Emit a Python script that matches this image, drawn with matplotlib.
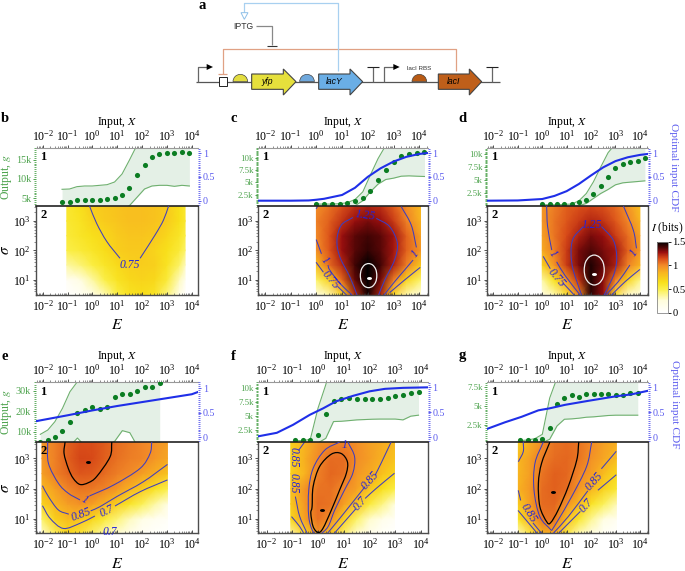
import numpy as np
import matplotlib
matplotlib.use("Agg")
import matplotlib.pyplot as plt
from matplotlib.cm import ScalarMappable
from matplotlib.colors import LinearSegmentedColormap, Normalize
from matplotlib.patches import PathPatch, Polygon, Rectangle, Wedge
from matplotlib.path import Path
from matplotlib.ticker import LogLocator, MultipleLocator, NullFormatter, FixedLocator
from matplotlib.transforms import Affine2D

plt.rcParams["font.family"] = ["Liberation Serif", "DejaVu Serif"]
plt.rcParams["mathtext.fontset"] = "stix"

W, H = 685, 571
GREEN = "#0b7d22"
GREEN_TXT = "#4da34d"
BAND = "#e4f0e6"
BAND_EDGE = "#6fb06f"
BLUE = "#1f2fe8"
BLUE_TXT = "#5a5aee"
CONT = "#3d3dc0"

E_TICKS = [1e-2, 1e-1, 1, 1e1, 1e2, 1e3, 1e4]
SIG_TICKS = [1e1, 1e2, 1e3]

# doubling input levels
X_B = [0.06, 0.12, 0.24, 0.49, 0.98, 1.95, 3.9, 7.8, 15.6, 31, 62.5, 125, 250, 500, 1000, 2000, 4000, 8000]
G_B = [4140, 4140, 4480, 4480, 4570, 4570, 4740, 5090, 5950, 7670, 10950, 13700, 15600, 16470, 16800, 16800, 17000, 16800]
UP_B = [7330, 7410, 8020, 8190, 8190, 8360, 8530, 9220, 11290, 14910, 18800, 24000, 28000, 30000, 30000, 30000, 30000, 30000]
LOW_B = [2000, 2000, 2000, 2000, 2000, 2000, 2000, 2000, 2000, 3100, 5260, 7410, 8190, 8360, 8360, 8100, 8360, 8190]

X_CD = [1, 2, 4, 8, 16, 32, 64, 125, 250, 500, 1000, 2000, 4000, 8000, 16000]
G_C = [675, 675, 675, 675, 810, 1220, 1820, 3310, 5540, 7640, 9260, 10400, 10740, 11080, 11150]
UP_C = [600, 600, 600, 675, 880, 1550, 3100, 6490, 9860, 12570, 14000, 16000, 18000, 19000, 20000]
LOW_C = [100, 100, 100, 100, 100, 270, 1280, 3100, 4660, 5610, 5880, 6280, 6350, 6280, 6220]
CDF_X_C = [-2.26, -1, -0.3, 0, 0.3, 1, 1.5, 2, 2.5, 3, 3.5, 4, 4.33]
CDF_C = [0, 0, 0.005, 0.02, 0.04, 0.12, 0.27, 0.5, 0.68, 0.82, 0.92, 0.98, 1.0]

G_D = [520, 520, 520, 520, 520, 900, 1280, 2300, 3960, 5670, 7390, 8150, 8540, 8790, 9300]
UP_D = [330, 330, 330, 400, 460, 1090, 2490, 4720, 7580, 10320, 12000, 13000, 14000, 15000, 16000]
LOW_D = [50, 50, 50, 50, 50, 140, 580, 1540, 2490, 3260, 4150, 4530, 4660, 4780, 4910]
CDF_X_D = [-2.25, -1, 0, 0.5, 1, 1.5, 2, 2.5, 3, 3.5, 4, 4.32]
CDF_D = [0, 0.005, 0.035, 0.1, 0.2, 0.35, 0.53, 0.7, 0.83, 0.91, 0.96, 0.98]

X_E = [0.008, 0.016, 0.031, 0.0625, 0.125, 0.25, 0.5, 1, 2, 4, 8, 16, 32, 64, 128, 256, 512]
G_E = [5120, 5770, 7240, 10160, 14550, 19270, 20730, 21870, 20890, 22030, 27070, 28210, 28210, 29670, 31630, 31950, 33900]
UP_E = [8700, 10800, 14900, 21400, 29500, 34400, 40000, 40000, 40000, 40000, 40000, 40000, 40000, 40000, 40000, 40000, 40000]
LOW_E = [3000, 3000, 3000, 3000, 3000, 6900, 3000, 3000, 3000, 3000, 5400, 10500, 9500, 3000, 3000, 3000, 3000]
CDF_X_E = [-2.27, -1, 0, 1, 2, 3, 4, 4.27]
CDF_E = [0.33, 0.45, 0.55, 0.64, 0.72, 0.8, 0.88, 0.93]

X_FG = [0.125, 0.25, 0.5, 1, 2, 4, 8, 16, 32, 64, 125, 250, 500, 1000, 2000, 4000, 8000]
G_F = [680, 680, 680, 1465, 5400, 7700, 8060, 8120, 8000, 8000, 8000, 8060, 8240, 8550, 8730, 9150, 9270]
UP_F = [500, 500, 740, 6370, 10600, 16000, 16000, 16000, 16000, 16000, 16000, 16000, 16000, 16000, 16000, 16000, 16000]
LOW_F = [100, 100, 100, 100, 920, 3950, 4000, 4120, 4250, 4310, 4370, 4400, 4400, 4400, 4250, 4920, 5100]
CDF_X_F = [-2.32, -1.6, -0.97, -0.32, 0.2, 0.7, 1.36, 2, 2.6, 3.3, 4.26]
CDF_F = [0.02, 0.09, 0.25, 0.45, 0.58, 0.72, 0.83, 0.92, 0.97, 0.99, 1.0]

G_G = [450, 450, 450, 580, 2100, 5220, 5980, 6380, 6200, 6610, 6610, 6560, 6520, 6470, 6470, 6650, 6740]
UP_G = [360, 450, 625, 1200, 6030, 8700, 10000, 10000, 10000, 10000, 10000, 10000, 10000, 10000, 10000, 10000, 10000]
LOW_G = [50, 50, 50, 100, 540, 2320, 3210, 3260, 3350, 3480, 3530, 3620, 3710, 3750, 3750, 3750, 3750]
CDF_X_G = [-2.25, -1.53, -0.85, -0.16, 0.3, 0.93, 1.88, 3, 3.65, 4.31]
CDF_G = [0.17, 0.3, 0.41, 0.54, 0.58, 0.65, 0.73, 0.82, 0.86, 0.93]

# information tables, rows are log10 sigma
LOG_SIG = [0.42, 1, 1.5, 2, 2.5, 3, 3.55]
LOG_E_B = [-1.03, -0.5, 0, 0.5, 1, 1.5, 2, 2.5, 3, 3.5, 3.73]
I_B = [[0, 0.05, 0.1, 0.3, 0.5, 0.62, 0.65, 0.6, 0.4, 0.12, 0.03],
       [0.08, 0.2, 0.35, 0.5, 0.62, 0.68, 0.7, 0.68, 0.55, 0.3, 0.12],
       [0.35, 0.42, 0.52, 0.6, 0.67, 0.72, 0.73, 0.72, 0.62, 0.45, 0.3],
       [0.5, 0.55, 0.6, 0.66, 0.73, 0.75, 0.75, 0.7, 0.64, 0.55, 0.45],
       [0.55, 0.6, 0.64, 0.69, 0.74, 0.77, 0.77, 0.75, 0.69, 0.6, 0.52],
       [0.57, 0.62, 0.7, 0.74, 0.77, 0.8, 0.8, 0.78, 0.74, 0.65, 0.58],
       [0.58, 0.64, 0.74, 0.76, 0.78, 0.8, 0.8, 0.78, 0.74, 0.65, 0.58]]
LOG_E_C = [0, 0.5, 1, 1.5, 2, 2.5, 3, 3.5, 4.05]
I_C = [[0.1, 0.3, 0.6, 1.2, 1.45, 1.22, 0.6, 0.3, 0.1],
       [0.45, 0.72, 1.08, 1.35, 1.52, 1.33, 1.03, 0.7, 0.45],
       [0.8, 1.07, 1.22, 1.4, 1.5, 1.4, 1.24, 1.03, 0.75],
       [0.98, 1.12, 1.28, 1.37, 1.42, 1.37, 1.26, 1.1, 0.96],
       [1.0, 1.13, 1.28, 1.36, 1.4, 1.36, 1.27, 1.1, 0.92],
       [1.02, 1.1, 1.2, 1.28, 1.32, 1.28, 1.18, 1.02, 0.85],
       [0.97, 1.05, 1.13, 1.2, 1.23, 1.2, 1.1, 0.98, 0.82]]
LOG_E_D = [0, 0.5, 1, 1.5, 2, 2.5, 3, 3.5, 4]
I_D = [[0.1, 0.3, 0.55, 0.97, 1.42, 1.28, 0.55, 0.25, 0.1],
       [0.35, 0.65, 0.95, 1.2, 1.45, 1.3, 1.03, 0.7, 0.4],
       [0.72, 0.97, 1.18, 1.32, 1.45, 1.35, 1.24, 1.02, 0.85],
       [0.88, 1.03, 1.18, 1.32, 1.38, 1.32, 1.26, 1.1, 0.95],
       [0.92, 1.05, 1.15, 1.24, 1.32, 1.28, 1.18, 1.07, 0.92],
       [0.96, 1.05, 1.12, 1.18, 1.23, 1.2, 1.12, 1.01, 0.85],
       [0.95, 1.03, 1.1, 1.13, 1.15, 1.13, 1.07, 0.96, 0.8]]
LOG_E_E = [-2.03, -1.5, -1, -0.5, 0, 0.5, 1, 1.5, 2, 2.5, 3.02]
I_E = [[0.2, 0.45, 0.65, 0.55, 0.42, 0.3, 0.2, 0.1, 0.05, 0.02, 0],
       [0.45, 0.72, 0.82, 0.78, 0.68, 0.55, 0.42, 0.3, 0.18, 0.1, 0.05],
       [0.7, 0.85, 0.93, 0.97, 0.93, 0.85, 0.72, 0.6, 0.48, 0.35, 0.22],
       [0.83, 0.93, 1.01, 1.05, 1.04, 1.01, 0.95, 0.85, 0.74, 0.63, 0.5],
       [0.92, 1.02, 1.08, 1.12, 1.11, 1.07, 1.03, 1.0, 0.93, 0.87, 0.78],
       [0.95, 1.02, 1.1, 1.16, 1.15, 1.1, 1.06, 1.03, 1.01, 0.96, 0.9],
       [0.95, 1.02, 1.09, 1.14, 1.14, 1.11, 1.07, 1.04, 1.01, 0.98, 0.93]]
LOG_E_F = [-1.06, -0.5, 0, 0.5, 1, 1.5, 2, 2.5, 2.97]
I_F = [[0.3, 0.62, 0.95, 0.72, 0.42, 0.22, 0.1, 0.03, 0],
       [0.68, 0.93, 1.06, 0.98, 0.72, 0.45, 0.28, 0.15, 0.07],
       [0.75, 0.95, 1.07, 1.05, 0.93, 0.78, 0.55, 0.4, 0.25],
       [0.8, 0.97, 1.05, 1.06, 1.0, 0.92, 0.78, 0.65, 0.52],
       [0.72, 0.86, 1.02, 1.08, 1.06, 0.96, 0.89, 0.79, 0.7],
       [0.72, 0.87, 1.0, 1.07, 1.07, 0.99, 0.93, 0.86, 0.78],
       [0.72, 0.85, 0.95, 1.0, 1.01, 0.98, 0.92, 0.88, 0.83]]
LOG_E_G = [-0.98, -0.5, 0, 0.5, 1, 1.5, 2, 2.5, 3.03]
I_G = [[0.25, 0.5, 0.8, 0.85, 0.5, 0.28, 0.12, 0.04, 0],
       [0.62, 0.85, 1.05, 1.05, 0.8, 0.58, 0.38, 0.22, 0.1],
       [0.75, 0.93, 1.07, 1.08, 0.97, 0.82, 0.62, 0.47, 0.32],
       [0.86, 0.95, 1.07, 1.1, 1.07, 0.96, 0.85, 0.71, 0.57],
       [0.84, 0.93, 1.05, 1.1, 1.08, 1.01, 0.93, 0.82, 0.68],
       [0.84, 0.93, 1.03, 1.07, 1.08, 1.05, 0.97, 0.9, 0.82],
       [0.72, 0.87, 0.99, 1.05, 1.07, 1.05, 1.0, 0.93, 0.87]]

# contour lines, (log10 E, log10 sigma)
LINES_B = [[(-0.12, 3.52), (0.17, 2.92), (0.58, 2.3), (1.11, 1.73)],
           [(1.92, 1.73), (2.52, 2.52), (2.86, 3.03), (3.07, 3.52)]]
LABELS_B = [("0.75", 1.52, 1.5, 0)]

LINES_C = [[(1.42, 3.12), (0.97, 2.86), (0.8, 2.35), (0.91, 1.78), (1.3, 1.1), (1.58, 0.48)],
           [(2.33, 3.09), (2.85, 2.81), (3.15, 2.24), (3.04, 1.67), (2.66, 0.99), (2.42, 0.48)],
           [(0, 2.35), (0.19, 1.9)],
           [(0.45, 1.5), (0.52, 1.33), (0.91, 0.88), (1.39, 0.48)],
           [(0, 3.43), (0.06, 3.52)],
           [(0, 1.58), (0.26, 1.27)],
           [(0.84, 0.76), (1.17, 0.48)],
           [(3.3, 3.49), (3.69, 2.86), (3.89, 2.1)],
           [(3.76, 1.67), (3.43, 1.33), (3.04, 0.93), (2.63, 0.48)],
           [(4.04, 1.42), (3.43, 0.99), (2.85, 0.56)]]
LABELS_C = [("1.25", 1.88, 3.18, -8), ("1", 0.32, 1.65, -50), ("0.75", 0.56, 0.99, -50), ("1", 3.85, 1.88, 50)]
RING_C = [(2.35, 1.14), (2.31, 1.35), (2.19, 1.5), (2.03, 1.55), (1.87, 1.5), (1.75, 1.35), (1.71, 1.14),
          (1.75, 0.93), (1.87, 0.78), (2.03, 0.73), (2.19, 0.78), (2.31, 0.93), (2.35, 1.14)]
PEAK_C = (2.03, 1.06)

LINES_D = [[(1.68, 2.81), (1.27, 2.41), (1.18, 1.9), (1.27, 1.33), (1.61, 0.48)],
           [(2.43, 2.81), (2.91, 2.35), (3.05, 1.78), (2.95, 1.22), (2.54, 0.48)],
           [(0.18, 3.52), (0.22, 2.81), (0.39, 2.01)],
           [(0.59, 1.61), (0.93, 1.15), (1.55, 0.48)],
           [(3.32, 3.52), (3.73, 2.69), (3.86, 2.07)],
           [(3.59, 1.5), (3.11, 0.93), (2.6, 0.48)],
           [(0.05, 1.78), (0.32, 1.39)],
           [(0.86, 0.88), (1.31, 0.48)],
           [(4, 1.35), (3.39, 0.93), (2.84, 0.48)]]
LABELS_D = [("1.25", 2.05, 2.86, 0), ("1", 0.45, 1.88, -55), ("0.75", 0.59, 1.05, -50), ("1", 3.77, 1.9, 55)]
RING_D = [(2.54, 1.33), (2.49, 1.59), (2.34, 1.77), (2.13, 1.84), (1.92, 1.77), (1.77, 1.59), (1.72, 1.33),
          (1.77, 1.07), (1.92, 0.89), (2.13, 0.82), (2.34, 0.89), (2.49, 1.07), (2.54, 1.33)]
PEAK_D = (2.13, 1.19)

LINES_E = [[(-1.8, 3.54), (-1.77, 2.84), (-1.37, 2.18), (-0.97, 1.85), (-0.5, 1.63)],
           [(-0.12, 1.76), (0.85, 2.12), (1.92, 2.67), (2.32, 3.16), (2.39, 3.54)],
           [(-2.01, 2.1), (-1.77, 1.74), (-1.37, 1.3), (-0.95, 1.16)],
           [(-0.07, 1.27), (0.31, 1.41), (0.98, 1.74), (2.05, 2.23), (3.02, 2.8)],
           [(-2.01, 1.44), (-1.7, 1.02), (-1.17, 0.69), (-0.5, 0.86), (0.1, 1.1)],
           [(0.91, 1.43), (1.92, 1.9), (3.02, 2.29)],
           [(-1.17, 0.55), (0.24, 0.55)],
           [(1.18, 0.55), (2.86, 0.55)]]
LABELS_E = [("1", -0.32, 1.63, -30), ("0.85", -0.47, 1.13, 20), ("0.7", 0.6, 1.26, 25), ("0.7", 0.71, 0.56, 0)]
BLACK_E = [(-1.1, 3.54), (-1.14, 3.16), (-0.97, 2.67), (-0.77, 2.34), (-0.5, 2.14), (-0.16, 2.2), (0.17, 2.4), (0.71, 3.05), (0.78, 3.54)]
PEAK_E = (-0.17, 2.87)

LINES_F = [[(0.84, 3.54), (0.26, 3.27), (-0.19, 2.67), (-0.36, 1.96), (-0.36, 1.08), (-0.19, 0.58), (0.06, 0.47)],
           [(1.16, 3.54), (1.42, 3.05), (1.35, 2.51), (1.03, 1.96), (0.65, 1.3), (0.39, 0.75), (0.06, 0.47)],
           [(-0.52, 3.54), (-0.75, 3.27)],
           [(-0.88, 1.74), (-0.71, 1.08), (-0.39, 0.47)],
           [(-1.03, 1.08), (-0.71, 0.75), (-0.52, 0.47)],
           [(2.84, 3.54), (2.45, 2.84), (2.22, 2.45)],
           [(1.83, 2.07), (0.9, 1.08), (0.26, 0.42)],
           [(2.97, 2.51), (2.26, 2.01), (1.83, 1.68)],
           [(1.45, 1.32), (0.52, 0.42)]]
LABELS_F = [("1", 1.01, 3.44, 0), ("0.85", -0.97, 3.05, -90), ("0.85", -0.94, 2.18, -90),
            ("0.85", 2.04, 2.26, 48), ("0.7", 1.65, 1.52, 48)]
BLACK_F = [(-0.23, 1.41), (-0.19, 2.07), (0.06, 2.73), (0.52, 3.14), (0.9, 3.16), (1.14, 2.89), (1.1, 2.51), (0.84, 1.96),
           (0.52, 1.3), (0.19, 0.69), (0, 0.56), (-0.19, 0.75), (-0.28, 1.19), (-0.23, 1.41)]
PEAK_F = (0.17, 1.3)

LINES_G = [[(0.04, 3.54), (-0.3, 2.84), (-0.34, 1.96), (-0.1, 1.08), (0.38, 0.62)],
           [(2.02, 3.54), (1.81, 2.73), (1.2, 1.74), (0.65, 0.97), (0.38, 0.62)],
           [(-0.78, 3.54), (-0.78, 3.22), (-0.98, 2.89)],
           [(-0.98, 1.93), (-0.89, 1.63)],
           [(-0.37, 0.86), (0, 0.5)],
           [(-0.98, 1.27), (-0.23, 0.55)],
           [(3.01, 3.22), (2.43, 2.67)],
           [(1.86, 1.93), (1.06, 1.08), (0.38, 0.47)],
           [(3.01, 2.45), (2.29, 1.96)],
           [(1.54, 1.24), (0.59, 0.47)]]
LABELS_G = [("0.85", -0.57, 1.19, -58), ("0.85", 2.13, 2.23, 48), ("0.7", 1.81, 1.46, 48)]
BLACK_G = [(0.31, 3.54), (-0.03, 2.84), (-0.16, 2.18), (-0.1, 1.41), (0.18, 0.91), (0.34, 0.88), (0.65, 1.3), (1.06, 2.07), (1.41, 2.95), (1.49, 3.54)]
PEAK_G = (0.45, 1.9)

CMAP_STOPS = [(0, "#ffffff"), (0.167, "#fffddc"), (0.33, "#fbf04a"), (0.43, "#f8e01a"), (0.567, "#f8b420"),
              (0.667, "#f28a28"), (0.767, "#d84a18"), (0.853, "#9a0f0f"), (0.933, "#400404"), (1, "#000000")]
cmap = LinearSegmentedColormap.from_list("info", CMAP_STOPS)
norm = Normalize(0, 1.5)
peak_marker = Path.unit_circle().transformed(Affine2D().scale(1.7, 1))

fig = plt.figure(figsize=(W / 100, H / 100), dpi=100)


def rect(x0, y0, x1, y1):
    return [x0 / W, 1 - y1 / H, (x1 - x0) / W, (y1 - y0) / H]


def log_axis(axis, majors):
    axis.set_major_locator(FixedLocator(majors))
    axis.set_minor_locator(LogLocator(base=10, subs=range(2, 10), numticks=20))
    axis.set_minor_formatter(NullFormatter())


def curve(ax, pts, col, lw):
    # bezier through the read points, in log space so the curve follows the decades
    p = np.array(pts, dtype=float)
    if len(p) < 3:
        ax.plot(10 ** p[:, 0], 10 ** p[:, 1], color=col, lw=lw)
        return
    m = np.zeros_like(p)
    m[1:-1] = (p[2:] - p[:-2]) / 6
    if np.allclose(p[0], p[-1]):
        m[0] = m[-1] = (p[1] - p[-2]) / 6
    else:
        m[0] = (p[1] - p[0]) / 3
        m[-1] = (p[-1] - p[-2]) / 3
    verts = [p[0]]
    codes = [Path.MOVETO]
    for i in range(len(p) - 1):
        verts += [p[i] + m[i], p[i + 1] - m[i + 1], p[i + 1]]
        codes += [Path.CURVE4] * 3
    ax.add_patch(PathPatch(Path(10 ** np.array(verts), codes), fc="none", ec=col, lw=lw, zorder=4))


def panel(letter, px, py, xlim, sig_lim, X, G, up, low, glim, gticks, glabels, gminor, cdf_x, cdf, cdf_lim,
          log_e, table, lines, labels, black=None, ring=None, peak=None, peak_col="k", left=False, right=None):
    x0, x1 = px
    y0, y1, y2 = py
    gsize = 7.3 if left else 6.3
    top = fig.add_axes(rect(x0, y0, x1, y1))
    top.set_xscale("log")
    top.set_xlim(10 ** xlim[0], 10 ** xlim[1])
    top.set_ylim(*glim)
    top.fill_between(X, low, up, color=BAND, lw=0)
    top.plot(X, up, color=BAND_EDGE, lw=0.8)
    top.plot(X, low, color=BAND_EDGE, lw=0.8)
    top.plot(X, G, "o", color=GREEN, ms=3.7, mew=0, zorder=5)
    top.set_yticks(gticks)
    top.set_yticklabels(glabels)
    top.yaxis.set_minor_locator(MultipleLocator(gminor))
    top.tick_params(axis="y", which="major", labelsize=gsize, labelcolor=GREEN_TXT, color=GREEN_TXT, length=2.5, width=0.7, pad=1)
    top.tick_params(axis="y", which="minor", color=GREEN_TXT, length=1.5, width=0.6)
    top.spines["left"].set_visible(False)
    top.spines["right"].set_visible(False)
    top.spines["top"].set_color("#999999")
    top.spines["bottom"].set_visible(False)
    top.text(0.025, 0.84, "1", transform=top.transAxes, fontsize=9, fontweight="bold", va="center")
    if left:
        top.set_ylabel("Output, $g$", fontsize=8.5, color=GREEN_TXT, labelpad=1)

    tw = top.twinx()
    tw.set_ylim(*cdf_lim)
    if cdf is not None:
        tw.plot(10 ** np.array(cdf_x), cdf, color=BLUE, lw=1.5)
    tw.yaxis.set_major_locator(FixedLocator([0, 0.5, 1]))
    tw.set_yticklabels(["0", "0.5", "1"])
    tw.yaxis.set_minor_locator(MultipleLocator(0.04))
    tw.tick_params(axis="y", which="major", labelsize=7.2, labelcolor=BLUE_TXT, color=BLUE_TXT, length=2.5, width=0.7, pad=1)
    tw.tick_params(axis="y", which="minor", color=BLUE_TXT, length=1.5, width=0.6)
    for s in tw.spines.values():
        s.set_visible(False)
    if right is not None:
        tw.set_ylabel("Optimal input CDF", fontsize=8.2, color=BLUE_TXT, rotation=270, va="center")
        tw.yaxis.set_label_coords(*right)

    log_axis(top.xaxis, E_TICKS)
    top.xaxis.tick_top()
    top.tick_params(axis="x", which="major", labelsize=8.6, length=2.2, width=0.6, pad=0.8, color="#333333")
    top.tick_params(axis="x", which="minor", length=1.3, width=0.4, color="#333333")
    top.xaxis.set_label_position("top")
    top.set_xlabel("Input, $X$", fontsize=8.5, labelpad=3)

    bot = fig.add_axes(rect(x0, y1, x1, y2))
    bot.set_xscale("log")
    bot.set_yscale("log")
    xx, yy = np.meshgrid(10 ** np.array(log_e), 10 ** np.array(LOG_SIG))
    bot.pcolormesh(xx, yy, np.array(table), cmap=cmap, norm=norm, shading="gouraud", rasterized=True)
    bot.set_xlim(10 ** xlim[0], 10 ** xlim[1])
    bot.set_ylim(10 ** sig_lim[0], 10 ** sig_lim[1])
    log_axis(bot.xaxis, E_TICKS)
    log_axis(bot.yaxis, SIG_TICKS)
    bot.tick_params(axis="x", which="major", direction="in", labelsize=8.6, length=2.5, width=0.6, pad=3, color="#333333")
    bot.tick_params(axis="x", which="minor", direction="in", length=1.4, width=0.4, color="#333333")
    bot.tick_params(axis="y", which="major", labelsize=8.6, length=2.5, width=0.6, pad=1, color="#333333")
    bot.tick_params(axis="y", which="minor", length=1.4, width=0.4, color="#333333")
    for s in bot.spines.values():
        s.set_color("#4d4d4d")
        s.set_linewidth(1.0)
    bot.spines["top"].set_color("#222222")
    bot.spines["top"].set_linewidth(1.2)
    bot.set_xlabel("$E$", fontsize=11.5, labelpad=2.5)
    if left:
        bot.set_ylabel(r"$\sigma$", fontsize=11, labelpad=1)
    bot.text(0.025, 0.9, "2", transform=bot.transAxes, fontsize=9, fontweight="bold", va="center", zorder=6)
    for line in lines:
        curve(bot, line, CONT, 0.75)
    for txt, lx, ly, rot in labels:
        bot.text(10 ** lx, 10 ** ly, txt, color="#2222dd", fontsize=8.4, style="italic", rotation=rot,
                 ha="center", va="center", rotation_mode="anchor", zorder=5)
    if black is not None:
        curve(bot, black, "k", 0.9)
    if ring is not None:
        curve(bot, ring, "#f0f0f0", 0.9)
    if peak is not None:
        bot.plot(10 ** peak[0], 10 ** peak[1], marker=peak_marker, color=peak_col, ms=3.6, mew=0, zorder=6)


COL1, COL2, COL3 = (36, 198), (258.3, 427.7), (487.3, 647.7)
ROW1, ROW2 = (148, 205.7, 295), (382, 442, 533.3)

panel("b", COL1, ROW1, (-2.27, 4.25), (0.48, 3.52), X_B, G_B, UP_B, LOW_B, (3083, 18030), [5000, 10000, 15000], ["5k", "10k", "15k"], 500,
      None, None, (-0.105, 1.11), LOG_E_B, I_B, LINES_B, LABELS_B, left=True)
panel("c", COL2, ROW1, (-2.26, 4.33), (0.48, 3.52), X_CD, G_C, UP_C, LOW_C, (270, 12027), [2500, 5000, 7500, 10000], ["2.5k", "5k", "7.5k", "10k"], 250,
      CDF_X_C, CDF_C, (-0.105, 1.105), LOG_E_C, I_C, LINES_C, LABELS_C, ring=RING_C, peak=PEAK_C, peak_col="w")
panel("d", COL3, ROW1, (-2.25, 4.32), (0.48, 3.52), X_CD, G_D, UP_D, LOW_D, (146, 11209), [2500, 5000, 7500, 10000], ["2.5k", "5k", "7.5k", "10k"], 250,
      CDF_X_D, CDF_D, (-0.105, 1.105), LOG_E_D, I_D, LINES_D, LABELS_D, ring=RING_D, peak=PEAK_D, peak_col="w", right=(1.158, 0.66))
panel("e", COL1, ROW2, (-2.27, 4.25), (0.53, 3.54), X_E, G_E, UP_E, LOW_E, (4960, 34230), [10000, 20000, 30000], ["10k", "20k", "30k"], 1000,
      CDF_X_E, CDF_E, (-0.095, 1.13), LOG_E_E, I_E, LINES_E, LABELS_E, black=BLACK_E, peak=PEAK_E, left=True)
panel("f", COL2, ROW2, (-2.32, 4.26), (0.53, 3.54), X_FG, G_F, UP_F, LOW_F, (260, 11090), [2500, 5000, 7500, 10000], ["2.5k", "5k", "7.5k", "10k"], 250,
      CDF_X_F, CDF_F, (-0.094, 1.107), LOG_E_F, I_F, LINES_F, LABELS_F, black=BLACK_F, peak=PEAK_F)
panel("g", COL3, ROW2, (-2.25, 4.31), (0.53, 3.54), X_FG, G_G, UP_G, LOW_G, (180, 8170), [2500, 5000, 7500], ["2.5k", "5k", "7.5k"], 250,
      CDF_X_G, CDF_G, (-0.094, 1.107), LOG_E_G, I_G, LINES_G, LABELS_G, black=BLACK_G, peak=PEAK_G, right=(1.165, 0.63))

# colour bar
cax = fig.add_axes(rect(657, 241.7, 668, 312.7))
cb = fig.colorbar(ScalarMappable(norm=norm, cmap=cmap), cax=cax, ticks=[0, 0.5, 1, 1.5])
cb.ax.set_yticklabels(["0", "0.5", "1", "1.5"])
cb.ax.tick_params(labelsize=7.6, length=2, width=0.6, pad=1)
cb.outline.set_linewidth(0.6)
cb.outline.set_edgecolor("#888888")

# overlay in pixel coordinates for the circuit and the letters
ov = fig.add_axes([0, 0, 1, 1], zorder=10)
ov.set_xlim(0, W)
ov.set_ylim(H, 0)
ov.axis("off")
ov.patch.set_alpha(0)

ov.text(651, 228, r"$I$ (bits)", fontsize=8.3, va="center", ha="left", color="k")
for let, lx, ly in [("a", 202, 5.5), ("b", 5, 119), ("c", 234, 119), ("d", 462, 119), ("e", 5, 356), ("f", 233, 356), ("g", 462, 356)]:
    ov.text(lx, ly, let, fontsize=10.5, fontweight="bold", ha="center", va="center")


def zx(v):
    return 170 + v / 3


def zy(v):
    return v / 3


def seg(xs, ys, col, lw=0.9, z=2):
    ov.plot([zx(v) for v in xs], [zy(v) for v in ys], color=col, lw=lw, solid_capstyle="butt", zorder=z)


def gene(x0, x1, neck, col, label):
    pts = [(x0, 222), (neck, 222), (neck, 207), (x1, 245), (neck, 285), (neck, 268), (x0, 268)]
    ov.add_patch(Polygon([(zx(a), zy(b)) for a, b in pts], fc=col, ec="#444444", lw=0.8, zorder=3))
    ov.text(zx((x0 + neck) / 2), zy(245), label, fontsize=6.2, style="italic", family=["Liberation Sans"], ha="center", va="center", zorder=4)


def rbs(cx, col):
    ov.add_patch(Wedge((zx(cx), zy(245)), 22 / 3, 180, 360, fc=col, ec="#444444", lw=0.5, zorder=3))


def promoter(x):
    seg([x, x, x + 30], [245, 200, 200], "#666666", 0.9)
    ov.add_patch(Polygon([(zx(x + 27), zy(192)), (zx(x + 46), zy(201)), (zx(x + 27), zy(210))], fc="k", ec="none", zorder=3))


def terminator(x):
    seg([x, x], [245, 202], "#666666", 0.9)
    seg([x - 18, x + 18], [202, 202], "#222222", 0.8)


seg([78, 990], [245, 245], "#555555", 0.9, 1)
promoter(83)
promoter(643)
terminator(608)
terminator(966)
ov.add_patch(Rectangle((zx(146), zy(232)), 26 / 3, 26 / 3, fc="w", ec="#222222", lw=0.7, zorder=3))
seg([857, 857, 158, 158], [212, 148, 148, 222], "#e0a184", 0.9)
seg([145, 172], [222, 222], "#e0a184", 0.9)
rbs(211, "#e3dd40")
rbs(411, "#6fa8dc")
rbs(748, "#b85a14")
gene(245, 378, 340, "#e6e03c", "yfp")
gene(446, 578, 540, "#6aaee6", "lacY")
gene(805, 935, 898, "#bf5f1a", "lacI")
ov.text(zx(748), zy(205), "lacI RBS", fontsize=4.5, family=["Liberation Sans"], ha="center", va="center", color="#333333")
ov.text(zx(220), zy(80), "IPTG", fontsize=6.2, family=["Liberation Sans"], ha="center", va="center", color="#333333")
seg([257, 307, 307], [78, 78, 135], "#888888", 0.9)
seg([292, 322], [137, 137], "#333333", 0.8)
seg([505, 505, 223, 223], [212, 8, 8, 38], "#a8d0f0", 0.9)
ov.add_patch(Polygon([(zx(213), zy(38)), (zx(234), zy(38)), (zx(223), zy(58))], fc="w", ec="#8fc0e8", lw=0.7, zorder=3))

fig.savefig("out.png", dpi=100)
